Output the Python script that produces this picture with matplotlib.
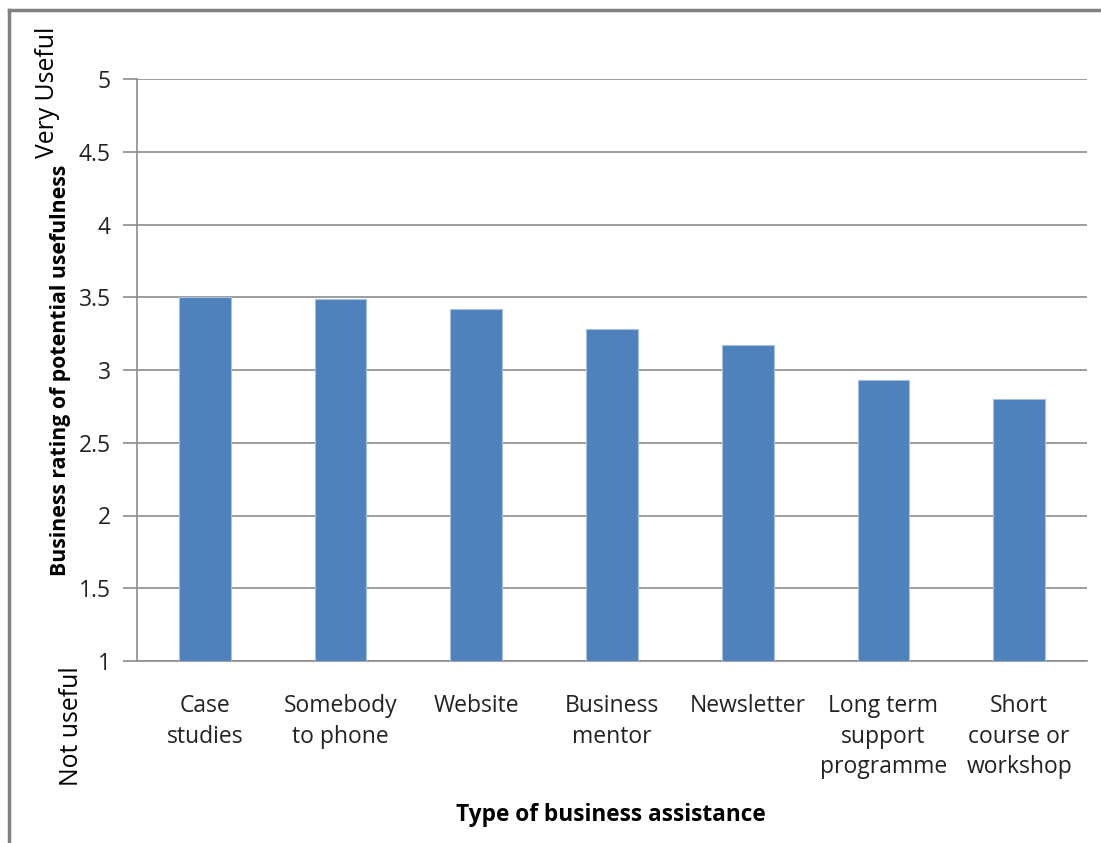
"""Bar chart: business rating of potential usefulness by type of assistance."""
import matplotlib
matplotlib.use("Agg")
import matplotlib.pyplot as plt

categories = ["Case\nstudies", "Somebody\nto phone", "Website", "Business\nmentor",
              "Newsletter", "Long term\nsupport\nprogramme", "Short\ncourse or\nworkshop"]
ratings = [3.50, 3.49, 3.42, 3.28, 3.17, 2.93, 2.80]
yticks = [1, 1.5, 2, 2.5, 3, 3.5, 4, 4.5, 5]
ytick_labels = ["1", "1.5", "2", "2.5", "3", "3.5", "4", "4.5", "5"]

W, H = 1101, 843
plt.rcParams["font.family"] = ["Open Sans", "DejaVu Sans"]
fig = plt.figure(figsize=(W / 100, H / 100), dpi=100)


def fx(px):
    return px / W


def fy(py):
    return 1 - py / H


ax = fig.add_axes([fx(137), fy(661), fx(1087) - fx(137), fy(79) - fy(661)])
x = range(len(categories))
ax.bar(x, [r - 1 for r in ratings], bottom=1, width=0.38, color="#4F81BD",
       edgecolor="#A7C0DE", linewidth=0.8, zorder=3)
ax.set_xlim(-0.5, len(categories) - 0.5)
ax.set_ylim(1, 5)
ax.set_yticks(yticks)
ax.set_yticklabels(ytick_labels, fontsize=16.5, color="#222222")
ax.set_xticks(list(x))
ax.set_xticklabels(categories, fontsize=16.5, color="#222222", linespacing=1.35)
ax.tick_params(axis="y", length=10, width=1.2, color="#8c8c8c", pad=9)
ax.tick_params(axis="x", length=0, pad=24)
ax.grid(axis="y", color="#8c8c8c", linewidth=1.2, zorder=0)
for s in ("top", "right"):
    ax.spines[s].set_visible(False)
for s in ("left", "bottom"):
    ax.spines[s].set_color("#8c8c8c")
    ax.spines[s].set_linewidth(1.2)
for t in ax.get_xticklabels():
    t.set_verticalalignment("top")

fig.text(fx(61), fy(370), "Business rating of potential usefulness", rotation=90,
         ha="center", va="center", fontsize=15.3, fontweight="bold")
fig.text(fx(611), fy(815), "Type of business assistance", ha="center", va="center",
         fontsize=16.3, fontweight="bold")
fig.text(fx(47), fy(92), "Very Useful", rotation=90, ha="center", va="center",
         fontsize=17.8)
fig.text(fx(72), fy(726), "Not useful", rotation=90, ha="center", va="center",
         fontsize=17.8)

# chart-area frame, cropped at right and bottom
fig.add_artist(plt.Line2D([fx(9), fx(9)], [fy(10), 0], color="#808080",
                          linewidth=2.5, transform=fig.transFigure))
fig.add_artist(plt.Line2D([fx(9), 1], [fy(10), fy(10)], color="#808080",
                          linewidth=2.5, transform=fig.transFigure))

fig.savefig("out.png", dpi=100)
